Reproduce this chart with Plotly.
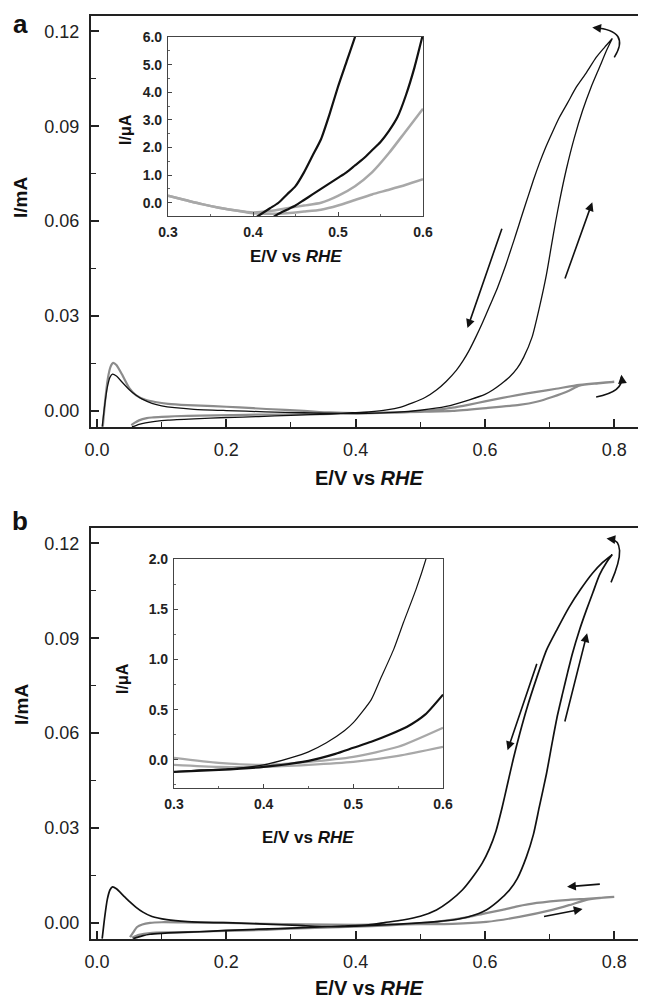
import plotly.graph_objects as go

# ---------------- Panel a : main CV (I/mA vs E/V) ----------------
a_black_fwd_x = [0.008,0.012,0.016,0.020,0.024,0.030,0.040,0.050,0.060,0.070,0.085,0.100,0.120,0.150,0.200,0.260,0.320,0.380,0.420,0.460,0.500,0.540,0.576,0.600,0.612,0.625,0.638,0.650,0.660,0.673,0.684,0.695,0.703,0.709,0.716,0.726,0.738,0.751,0.764,0.777,0.788,0.797]
a_black_fwd_y = [-0.005,0.002,0.0075,0.0106,0.0116,0.0110,0.0088,0.0067,0.0050,0.0037,0.0024,0.0016,0.0010,0.0005,0.0001,-0.0003,-0.0006,-0.0008,-0.0008,-0.0005,0.0002,0.0014,0.0035,0.0052,0.0066,0.0085,0.0107,0.0135,0.0170,0.0234,0.0325,0.0430,0.0525,0.0595,0.0670,0.0765,0.0862,0.0950,0.1023,0.1086,0.1140,0.1178]
a_black_bwd_x = [0.797,0.785,0.772,0.757,0.741,0.728,0.715,0.704,0.694,0.684,0.675,0.667,0.659,0.652,0.645,0.638,0.632,0.625,0.618,0.607,0.596,0.586,0.576,0.566,0.556,0.540,0.525,0.508,0.488,0.470,0.448,0.420,0.395,0.360,0.300,0.250,0.200,0.150,0.110,0.090,0.075,0.065,0.058,0.054]
a_black_bwd_y = [0.1178,0.1150,0.1118,0.1070,0.1023,0.0975,0.0928,0.0880,0.0834,0.0782,0.0730,0.0680,0.0630,0.0585,0.0540,0.0497,0.0460,0.0420,0.0382,0.0330,0.0278,0.0234,0.0193,0.0158,0.0129,0.0093,0.0066,0.0043,0.0025,0.0012,0.0003,-0.0003,-0.0006,-0.0010,-0.0014,-0.0018,-0.0021,-0.0025,-0.0029,-0.0033,-0.0038,-0.0043,-0.0048,-0.0050]

a_gray_fwd_x = [0.009,0.013,0.017,0.021,0.025,0.030,0.040,0.050,0.060,0.075,0.090,0.110,0.140,0.180,0.220,0.262,0.320,0.360,0.400,0.450,0.500,0.550,0.602,0.653,0.680,0.704,0.730,0.746,0.775,0.800]
a_gray_fwd_y = [-0.005,0.004,0.0105,0.0140,0.0152,0.0145,0.0110,0.0072,0.0050,0.0035,0.0028,0.0022,0.0018,0.0015,0.0011,0.0006,0.0000,-0.0005,-0.0007,-0.0005,-0.0003,0.0000,0.0009,0.0019,0.0029,0.0044,0.0064,0.0080,0.0087,0.0092]
a_gray_bwd_x = [0.800,0.775,0.746,0.710,0.680,0.650,0.627,0.600,0.576,0.550,0.525,0.490,0.450,0.400,0.350,0.300,0.250,0.210,0.160,0.120,0.100,0.085,0.077,0.065,0.058,0.053]
a_gray_bwd_y = [0.0092,0.0088,0.0082,0.0070,0.0060,0.0050,0.0041,0.0030,0.0020,0.0010,0.0003,-0.0003,-0.0006,-0.0008,-0.0010,-0.0011,-0.0012,-0.0013,-0.0015,-0.0017,-0.0019,-0.0021,-0.0023,-0.0030,-0.0038,-0.0045]

# ---------------- Panel a : inset (I/uA) ----------------
ai_black1_x = [0.40,0.41,0.42,0.43,0.44,0.45,0.46,0.47,0.48,0.49,0.50,0.51,0.52,0.53]
ai_black1_y = [-0.6,-0.4,-0.2,0.0,0.3,0.6,1.1,1.7,2.3,3.2,4.2,5.1,6.0,7.0]
ai_black2_x = [0.42,0.43,0.44,0.45,0.46,0.47,0.48,0.49,0.50,0.51,0.52,0.53,0.54,0.55,0.56,0.57,0.58,0.59,0.60,0.61]
ai_black2_y = [-0.6,-0.4,-0.25,-0.1,0.1,0.3,0.5,0.7,0.9,1.1,1.35,1.6,1.9,2.2,2.6,3.1,3.9,4.9,6.1,7.2]
ai_gray_x = [0.30,0.32,0.34,0.36,0.38,0.40,0.42,0.44,0.46,0.48,0.50,0.52,0.54,0.56,0.58,0.60]
ai_gray1_y = [0.25,0.10,-0.05,-0.18,-0.28,-0.35,-0.30,-0.20,-0.10,0.00,0.25,0.60,1.10,1.80,2.60,3.40]
ai_gray2_y = [0.25,0.10,-0.05,-0.18,-0.28,-0.38,-0.40,-0.38,-0.32,-0.25,-0.10,0.10,0.30,0.47,0.65,0.85]

# ---------------- Panel b : main CV ----------------
b_black_fwd_x = [0.008,0.012,0.016,0.020,0.024,0.030,0.040,0.050,0.060,0.071,0.085,0.108,0.140,0.180,0.210,0.260,0.310,0.360,0.400,0.450,0.499,0.525,0.550,0.576,0.602,0.620,0.638,0.650,0.664,0.675,0.684,0.695,0.704,0.712,0.720,0.728,0.735,0.746,0.757,0.767,0.777,0.788,0.797]
b_black_fwd_y = [-0.005,0.002,0.0075,0.0104,0.0114,0.0108,0.0088,0.0068,0.0050,0.0034,0.0020,0.0010,0.0004,0.0001,0.0,-0.0004,-0.0008,-0.0012,-0.0010,-0.0006,0.0,0.0004,0.0009,0.0020,0.0041,0.0068,0.0104,0.0140,0.0208,0.0280,0.0366,0.0470,0.0570,0.0655,0.0725,0.0793,0.0850,0.0925,0.0990,0.1045,0.1100,0.1140,0.1165]
b_black_bwd_x = [0.797,0.782,0.766,0.748,0.730,0.712,0.695,0.680,0.665,0.654,0.644,0.635,0.626,0.617,0.607,0.596,0.580,0.565,0.545,0.525,0.500,0.473,0.445,0.420,0.380,0.310,0.250,0.200,0.159,0.120,0.100,0.082,0.070,0.062,0.056]
b_black_bwd_y = [0.1165,0.1140,0.1105,0.1055,0.0998,0.0930,0.0862,0.0775,0.0680,0.0600,0.0520,0.0440,0.0360,0.0290,0.0235,0.0190,0.0142,0.0104,0.0068,0.0041,0.0021,0.0009,0.0001,-0.0006,-0.0010,-0.0016,-0.0020,-0.0024,-0.0028,-0.0031,-0.0033,-0.0036,-0.0041,-0.0046,-0.0050]

b_gray_fwd_x = [0.051,0.056,0.062,0.070,0.082,0.100,0.150,0.200,0.262,0.320,0.400,0.450,0.500,0.550,0.602,0.653,0.704,0.730,0.757,0.780,0.800]
b_gray_fwd_y = [-0.0045,-0.0030,-0.0013,-0.0005,0.0,0.0002,0.0001,0.0,-0.0003,-0.0005,-0.0006,-0.0005,-0.0004,-0.0003,0.0003,0.0019,0.0041,0.0056,0.0073,0.0079,0.0082]
b_gray_bwd_x = [0.800,0.757,0.730,0.680,0.650,0.627,0.600,0.576,0.550,0.525,0.490,0.450,0.400,0.350,0.300,0.262,0.200,0.159,0.120,0.082,0.065,0.054]
b_gray_bwd_y = [0.0082,0.0076,0.0073,0.0063,0.0052,0.0041,0.0030,0.0019,0.0010,0.0003,-0.0003,-0.0008,-0.0012,-0.0015,-0.0018,-0.0022,-0.0025,-0.0028,-0.0030,-0.0032,-0.0038,-0.0047]

# ---------------- Panel b : inset ----------------
bi_black1_x = [0.30,0.33,0.36,0.40,0.43,0.45,0.47,0.49,0.50,0.52,0.53,0.545,0.556,0.57,0.581,0.59]
bi_black1_y = [-0.12,-0.10,-0.09,-0.05,0.02,0.08,0.17,0.29,0.37,0.60,0.80,1.10,1.37,1.70,2.00,2.30]
bi_black2_x = [0.30,0.35,0.40,0.45,0.48,0.50,0.52,0.54,0.56,0.58,0.60]
bi_black2_y = [-0.12,-0.10,-0.07,-0.01,0.06,0.12,0.18,0.25,0.33,0.45,0.65]
bi_gray_x = [0.30,0.35,0.40,0.45,0.50,0.55,0.60]
bi_gray1_y = [0.02,-0.03,-0.05,-0.02,0.03,0.13,0.32]
bi_gray2_y = [-0.05,-0.07,-0.07,-0.05,-0.02,0.04,0.13]

BLACK = "#111111"
GRAY = "#8c8c8c"
LGRAY = "#a8a8a8"
FONT = "Liberation Sans, Arial, sans-serif"

fig = go.Figure()


def line(x, y, xa, ya, color, width, smooth=0.6):
    fig.add_trace(go.Scatter(x=x, y=y, xaxis=xa, yaxis=ya, mode="lines",
                             line=dict(color=color, width=width, shape="spline", smoothing=smooth),
                             showlegend=False, hoverinfo="skip"))


# panel a main
line(a_gray_fwd_x + a_gray_bwd_x, a_gray_fwd_y + a_gray_bwd_y, "x", "y", GRAY, 2.2)
line(a_black_fwd_x + a_black_bwd_x, a_black_fwd_y + a_black_bwd_y, "x", "y", BLACK, 1.3)
# panel a inset
line(ai_gray_x, ai_gray1_y, "x2", "y2", LGRAY, 2.5)
line(ai_gray_x, ai_gray2_y, "x2", "y2", LGRAY, 2.5)
line(ai_black1_x, ai_black1_y, "x2", "y2", BLACK, 2.2)
line(ai_black2_x, ai_black2_y, "x2", "y2", BLACK, 2.2)
# panel b main
line(b_gray_fwd_x + b_gray_bwd_x, b_gray_fwd_y + b_gray_bwd_y, "x3", "y3", GRAY, 2.2)
line(b_black_fwd_x + b_black_bwd_x, b_black_fwd_y + b_black_bwd_y, "x3", "y3", BLACK, 1.7)
# panel b inset
line(bi_gray_x, bi_gray1_y, "x4", "y4", LGRAY, 2.2)
line(bi_gray_x, bi_gray2_y, "x4", "y4", LGRAY, 2.2)
line(bi_black1_x, bi_black1_y, "x4", "y4", BLACK, 1.2)
line(bi_black2_x, bi_black2_y, "x4", "y4", BLACK, 2.2)

W, H = 646, 1000
OFF = 8  # page body margin of the browser


def px(p):
    return (p - OFF) / W


def py(p):
    return 1 - (p - OFF) / H


def main_x(domain, anchor):
    return dict(domain=domain, anchor=anchor, range=[-0.0093, 0.846], automargin=False,
                tick0=0, dtick=0.2, tickformat=".1f", ticks="inside", ticklen=8, tickwidth=1.6,
                tickcolor="#222", showline=True, linewidth=2, linecolor="#222", mirror=True,
                showgrid=False, zeroline=False, ticklabelstandoff=5,
                tickfont=dict(family=FONT, size=18, color="#222"),
                minor=dict(dtick=0.1, tick0=0, ticks="inside", ticklen=5, tickwidth=1.3, tickcolor="#222"))


def main_y(domain, anchor):
    return dict(domain=domain, anchor=anchor, range=[-0.0051, 0.1249], automargin=False,
                tick0=0, dtick=0.03, tickformat=".2f", ticks="inside", ticklen=8, tickwidth=1.6,
                tickcolor="#222", showline=True, linewidth=2, linecolor="#222", mirror=True,
                showgrid=False, zeroline=False, ticklabelstandoff=6,
                tickfont=dict(family=FONT, size=18, color="#222"),
                minor=dict(dtick=0.015, tick0=0, ticks="inside", ticklen=5, tickwidth=1.3, tickcolor="#222"))


def inset_x(domain, anchor):
    return dict(domain=domain, anchor=anchor, range=[0.3, 0.6], automargin=False,
                tick0=0.3, dtick=0.1, tickformat=".1f", ticks="inside", ticklen=4, tickwidth=1,
                tickcolor="#444", showline=True, linewidth=1.2, linecolor="#444", mirror=True,
                showgrid=False, zeroline=False, ticklabelstandoff=3,
                tickfont=dict(family=FONT, size=14, color="#222", weight="bold"),
                minor=dict(dtick=0.05, tick0=0.3, ticks="inside", ticklen=2, tickwidth=1, tickcolor="#666"))


def inset_y(domain, anchor, rng, dtick, mdt):
    return dict(domain=domain, anchor=anchor, range=rng, automargin=False,
                tick0=0, dtick=dtick, tickformat=".1f", ticks="inside", ticklen=4, tickwidth=1,
                tickcolor="#444", showline=True, linewidth=1.2, linecolor="#444", mirror=True,
                showgrid=False, zeroline=False, ticklabelstandoff=2,
                tickfont=dict(family=FONT, size=14, color="#222", weight="bold"),
                minor=dict(dtick=mdt, tick0=0, ticks="inside", ticklen=2, tickwidth=1, tickcolor="#666"))


fig.update_layout(
    template="none",
    width=W, height=H, autosize=False,
    margin=dict(l=0, r=0, t=0, b=0, pad=0),
    paper_bgcolor="white", plot_bgcolor="white",
    showlegend=False,
    xaxis=main_x([px(91), px(644)], "y"),
    yaxis=main_y([py(427), py(16)], "x"),
    xaxis2=inset_x([px(168), px(423)], "y2"),
    yaxis2=inset_y([py(216), py(37)], "x2", [-0.48, 6.0], 1, 0.5),
    xaxis3=main_x([px(91), px(644)], "y3"),
    yaxis3=main_y([py(939), py(528)], "x3"),
    xaxis4=inset_x([px(174), px(443)], "y4"),
    yaxis4=inset_y([py(788), py(559)], "x4", [-0.28, 2.0], 0.5, 0.25),
)

ann = []


def txt(text, x, y, size, angle=0):
    ann.append(dict(text=text, x=px(x), y=py(y), xref="paper", yref="paper",
                    xanchor="center", yanchor="middle", showarrow=False, textangle=angle,
                    font=dict(family=FONT, size=size, color="#111")))


ttl = "<b>E/V vs <i>RHE</i></b>"
txt("<b>a</b>", 20, 24, 26)
txt("<b>b</b>", 20, 521, 26)
txt(ttl, 369, 478, 20)
txt(ttl, 369, 988, 20)
txt("<b>I/mA</b>", 21, 198, 19, -90)
txt("<b>I/mA</b>", 21, 705, 19, -90)
txt(ttl, 296, 256, 17)
txt(ttl, 308, 837, 17)
txt("<b>I/μA</b>", 125, 130, 16, -90)
txt("<b>I/μA</b>", 122, 679, 16, -90)


def arrow(xr, yr, x0, y0, x1, y1):
    ann.append(dict(x=x1, y=y1, ax=x0, ay=y0, xref=xr, yref=yr, axref=xr, ayref=yr,
                    showarrow=True, arrowhead=2, arrowsize=1.1, arrowwidth=1.6,
                    arrowcolor=BLACK, text="", standoff=0, startstandoff=0))


def head(xr, yr, x1, y1, dx, dy):
    ann.append(dict(x=x1, y=y1, ax=dx, ay=dy, xref=xr, yref=yr,
                    showarrow=True, arrowhead=2, arrowsize=1.1, arrowwidth=1.6,
                    arrowcolor=BLACK, text="", standoff=0))


# panel a arrows
arrow("x", "y", 0.627, 0.0581, 0.573, 0.0262)
arrow("x", "y", 0.723, 0.0414, 0.766, 0.0660)
head("x", "y", 0.766, 0.1213, 8, 1)
head("x", "y", 0.811, 0.0114, 1, 8)
# panel b arrows
arrow("x3", "y3", 0.681, 0.0824, 0.635, 0.0546)
arrow("x3", "y3", 0.723, 0.0632, 0.758, 0.0916)
arrow("x3", "y3", 0.780, 0.0123, 0.727, 0.0114)
arrow("x3", "y3", 0.689, 0.0019, 0.751, 0.0044)
head("x3", "y3", 0.788, 0.1216, 8, 1)

shapes = [
    dict(type="path", xref="x", yref="y", path="M 0.800,0.1118 Q 0.826,0.1203 0.770,0.1212",
         line=dict(color=BLACK, width=1.6)),
    dict(type="path", xref="x", yref="y", path="M 0.772,0.0044 Q 0.815,0.0060 0.811,0.0108",
         line=dict(color=BLACK, width=1.6)),
    dict(type="path", xref="x3", yref="y3", path="M 0.795,0.1077 Q 0.823,0.1209 0.792,0.1216",
         line=dict(color=BLACK, width=1.6)),
]

fig.update_layout(annotations=ann, shapes=shapes)
fig.write_html("out.html")
